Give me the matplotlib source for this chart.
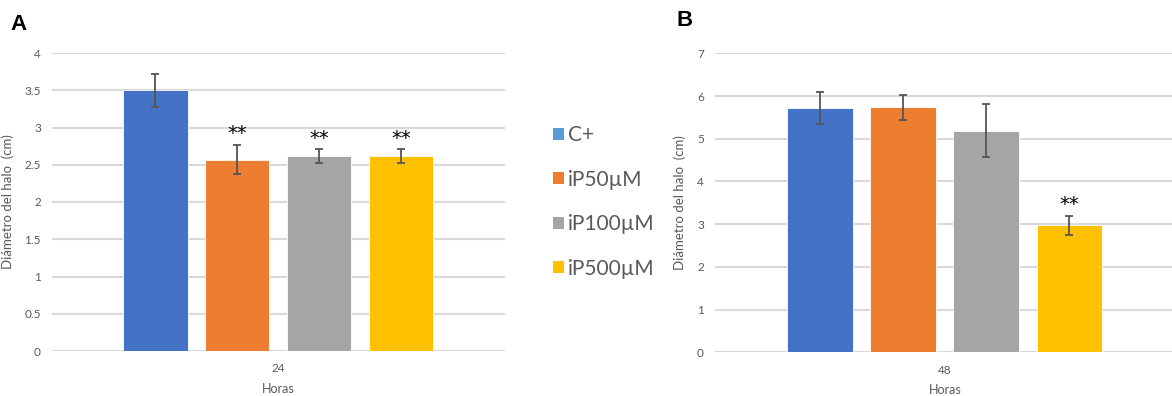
import matplotlib.pyplot as plt
from matplotlib.patches import Patch

plt.rcParams['font.family'] = ['Lato', 'DejaVu Sans']

groups = ['C+', 'iP50µM', 'iP100µM', 'iP500µM']
colors = ['#4472C4', '#ED7D31', '#A5A5A5', '#FFC000']
legend_colors = ['#5B9BD5', '#ED7D31', '#A5A5A5', '#FFC000']

# panel A, 24 h
mean_24 = [3.50, 2.57, 2.62, 2.62]
err_24 = [0.22, 0.20, 0.09, 0.09]
sig_24 = ['', '**', '**', '**']

# panel B, 48 h
mean_48 = [5.72, 5.74, 5.19, 2.97]
err_48 = [0.37, 0.29, 0.62, 0.22]
sig_48 = ['', '', '', '**']

W, H = 1172, 396
fig = plt.figure(figsize=(W / 100, H / 100), dpi=100)

txt = '#595959'


def panel(rect, means, errs, sigs, ymax, ystep, xlabel, star_off, ylab_x):
    ax = fig.add_axes(rect)
    x = range(len(means))
    ax.bar(x, means, width=0.79, color=colors, edgecolor='white', linewidth=0.6, zorder=2)
    ax.errorbar(x, means, yerr=errs, fmt='none', ecolor='#555555', elinewidth=1.3,
                capsize=3, capthick=1.3, zorder=3)
    for xi, m, e, s in zip(x, means, errs, sigs):
        if s:
            ax.text(xi, m + e + star_off, s, ha='center', va='bottom', fontsize=14,
                    color='black', family=['DejaVu Sans'])
    ax.set_xlim(-1.26, 4.27)
    ax.set_ylim(0, ymax)
    yt = [i * ystep for i in range(int(round(ymax / ystep)) + 1)]
    ax.set_yticks(yt)
    ax.set_yticklabels([('%g' % v) for v in yt], color=txt, fontsize=8.5)
    ax.set_xticks([1.5])
    ax.set_xticklabels([xlabel], color=txt, fontsize=8.5)
    ax.tick_params(length=0, pad=8)
    ax.tick_params(axis='x', pad=9)
    ax.grid(axis='y', color='#D9D9D9', linewidth=1.5, zorder=0)
    ax.set_axisbelow(True)
    for sp in ax.spines.values():
        sp.set_visible(False)
    ax.set_ylabel('Diámetro del halo  (cm)', color=txt, fontsize=9.5)
    ax.yaxis.set_label_coords(ylab_x, 0.5)
    ax.set_xlabel('Horas', color=txt, fontsize=9, labelpad=6)
    return ax


axA = panel([52 / W, 45 / H, 453 / W, 298 / H], mean_24, err_24, sig_24, 4, 0.5, '24', 0.02,
            -38 / 453)
axB = panel([715 / W, 43.7 / H, 460 / W, 299 / H], mean_48, err_48, sig_48, 7, 1, '48', 0.04,
            -29 / 460)

fig.text(10 / W, 1 - 25 / H, 'A', fontsize=16, fontweight='bold', va='center',
         family=['Liberation Sans'])
fig.text(677 / W, 1 - 20 / H, 'B', fontsize=16, fontweight='bold', va='center',
         family=['Liberation Sans'])

handles = [Patch(facecolor=c, edgecolor='none') for c in legend_colors]
leg = fig.legend(handles, groups, loc='upper left', bbox_to_anchor=(543 / W, 1 - 115 / H),
                 frameon=False, fontsize=15, handlelength=0.5, handleheight=0.5,
                 handletextpad=0.2, labelspacing=1.17, borderpad=0)
for t in leg.get_texts():
    t.set_color(txt)

fig.savefig('out.png', dpi=100)
